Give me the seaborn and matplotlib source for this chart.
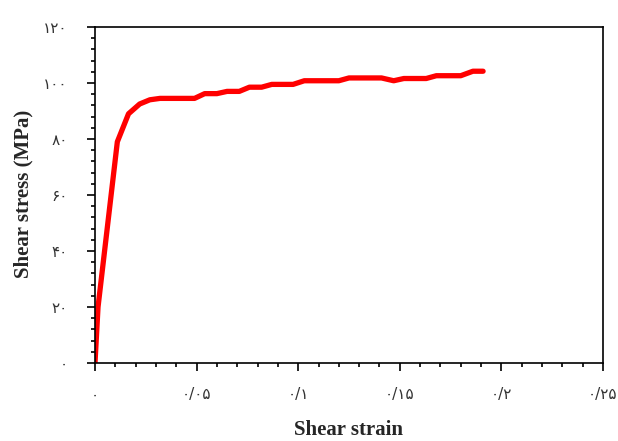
import matplotlib
matplotlib.use("Agg")
import matplotlib.pyplot as plt
from matplotlib.ticker import MultipleLocator, FixedLocator
import seaborn as sns
import pandas as pd

# Shear stress-strain curve
strain = [0, 0.0015, 0.011, 0.0165, 0.022, 0.027, 0.032, 0.049, 0.054, 0.060,
          0.065, 0.071, 0.076, 0.082, 0.087, 0.0975, 0.103, 0.120, 0.125,
          0.141, 0.147, 0.152, 0.163, 0.168, 0.180, 0.186, 0.191]
stress = [0, 20, 79, 89, 92.5, 94, 94.5, 94.5, 96.2, 96.2,
          97, 97, 98.5, 98.5, 99.5, 99.5, 100.8, 100.8, 101.8,
          101.8, 100.8, 101.6, 101.6, 102.6, 102.6, 104.2, 104.2]

x_ticks = [0, 0.05, 0.1, 0.15, 0.2, 0.25]
x_tick_labels = ["۰", "۰/۰۵", "۰/۱", "۰/۱۵", "۰/۲", "۰/۲۵"]
y_ticks = [0, 20, 40, 60, 80, 100, 120]
y_tick_labels = ["۰", "۲۰", "۴۰", "۶۰", "۸۰", "۱۰۰", "۱۲۰"]

df = pd.DataFrame({"strain": strain, "stress": stress})

sns.set_style("white")
plt.rcParams["font.family"] = ["DejaVu Sans"]

fig = plt.figure(figsize=(6.18, 4.41), dpi=100)
ax = fig.add_axes([0.1537, 0.1769, 0.822, 0.7619])

sns.lineplot(data=df, x="strain", y="stress", color="#ff0000", linewidth=3.8,
             ax=ax, sort=False, solid_joinstyle="round", solid_capstyle="round")

ax.set_xlim(0, 0.25)
ax.set_ylim(0, 120)
ax.xaxis.set_major_locator(FixedLocator(x_ticks))
ax.yaxis.set_major_locator(FixedLocator(y_ticks))
ax.set_xticklabels(x_tick_labels)
ax.set_yticklabels(y_tick_labels)
ax.xaxis.set_minor_locator(MultipleLocator(0.01))
ax.yaxis.set_minor_locator(MultipleLocator(4))

for side in ["left", "bottom", "top", "right"]:
    ax.spines[side].set_color("black")
    ax.spines[side].set_linewidth(1.2)

ax.tick_params(axis="both", which="major", direction="out", length=5.5,
               width=1.2, color="black", labelsize=11, labelcolor="#333333",
               bottom=True, left=True, top=False, right=False)
ax.tick_params(axis="both", which="minor", direction="out", length=3,
               width=1.2, color="black", bottom=True, left=True,
               top=False, right=False)
ax.tick_params(axis="y", which="major", pad=14)
ax.tick_params(axis="x", which="major", pad=12)

label_font = {"family": "Liberation Serif", "weight": "bold", "size": 15}
ax.set_xlabel("Shear strain", fontdict=label_font, va="center")
ax.set_ylabel("Shear stress (MPa)", fontdict=label_font, va="center")
ax.xaxis.set_label_coords(0.5, -0.2)
ax.yaxis.set_label_coords(-0.14, 0.503)

fig.savefig("out.png", dpi=100, facecolor="white")
